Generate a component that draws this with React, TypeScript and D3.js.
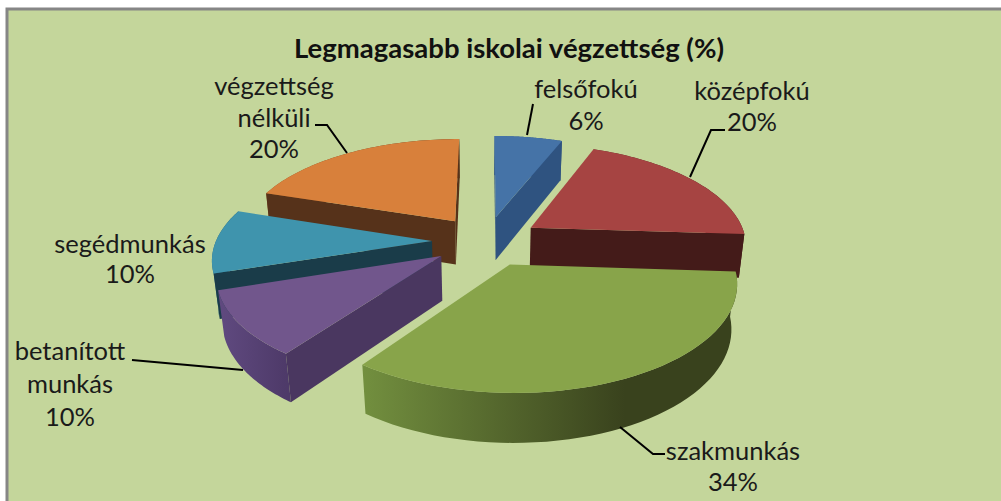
import React from 'react';
import * as d3 from 'd3';

const categories = ['felsőfokú', 'középfokú', 'szakmunkás', 'betanított munkás', 'segédmunkás', 'végzettség nélküli'];
const shares = [6, 20, 34, 10, 10, 20];
const title = 'Legmagasabb iskolai végzettség (%)';

const topColors = ['#4573a7', '#a64442', '#88a44a', '#71568c', '#3f94ad', '#d8803b'];
const faceColors = ['#2f5380', '#441b19', '#39431f', '#4a3760', '#1a3c49', '#56321a'];
const wallLeft = ['#3a6496', '#5e2624', '#73903f', '#604a80', '#2c6a7e', '#8a5226'];
const wallRight = ['#2f5380', '#441b19', '#39421d', '#4e3a69', '#1f4a5a', '#56321a'];

// label lines, one row per slice
const labelLines = [
  ['felsőfokú', '6%'],
  ['középfokú', '20%'],
  ['szakmunkás', '34%'],
  ['betanított', 'munkás', '10%'],
  ['segédmunkás', '10%'],
  ['végzettség', 'nélküli', '20%'],
];
const labelAnchors = [
  { x: 586, y: 98 },
  { x: 752, y: 100 },
  { x: 733, y: 460 },
  { x: 70, y: 360 },
  { x: 130, y: 253 },
  { x: 274, y: 95 },
];
const labelStep = [32, 31, 31, 33, 30, 31.5];
const leaders: [number, number][][] = [
  [[527, 135], [533, 104]],
  [[690, 177], [711, 130], [725, 130]],
  [[620, 427], [653, 454], [665, 454]],
  [[243, 370], [132, 360]],
  [],
  [[347, 153], [327, 125], [315, 125]],
];

// perspective of the 3D pie
const cx = 486, cy = 241;
const scaleU = 216, scaleV = 100.5, depth = 45;
const persp = 0.154, perspZ = 0.022;
const explode = 0.25;

const project = (u: number, v: number, z = 0): [number, number] => {
  const w = 1 + persp * v + perspZ * z;
  return [cx + (scaleU * u) / w, cy - (scaleV * v - depth * z) / w];
};

const pie = d3.pie<number>().sort(null).value((d) => d);
const slices = pie(shares);
const line = d3.line();

const drawOrder = [0, 5, 1, 4, 3, 2];

export default function App() {
  return (
    <svg width={1001} height={501} style={{ position: 'absolute', left: 0, top: 0, display: 'block', background: '#fff' }}>
      <defs>
        {slices.map((s, i) => {
          const mid = (s.startAngle + s.endAngle) / 2;
          const ox = explode * Math.sin(mid), oy = explode * Math.cos(mid);
          const xs = d3.range(0, 1.001, 0.05).map((t) => {
            const a = s.startAngle + t * (s.endAngle - s.startAngle);
            return project(ox + Math.sin(a), oy + Math.cos(a))[0];
          });
          const near = i === 2 ? [360, 625] : d3.extent(xs);
          return (
            <linearGradient key={i} id={`wall${i}`} gradientUnits="userSpaceOnUse" x1={near[0]} x2={near[1]} y1={0} y2={0}>
              <stop offset="0" stopColor={wallLeft[i]} />
              <stop offset="1" stopColor={wallRight[i]} />
            </linearGradient>
          );
        })}
      </defs>
      <rect x={7} y={9} width={1000} height={500} fill="#c4d69b" stroke="#868686" strokeWidth={3} />
      <text x={509} y={58} textAnchor="middle" fontFamily="Lato" fontWeight={700} fontSize={27.5} fill="#111">
        {title}
      </text>
      {drawOrder.map((i) => {
        const s = slices[i];
        const mid = (s.startAngle + s.endAngle) / 2;
        const ox = explode * Math.sin(mid), oy = explode * Math.cos(mid);
        const angles = d3.range(0, 1.0001, 1 / 48).map((t) => s.startAngle + t * (s.endAngle - s.startAngle));
        const rim = (a: number, z: number) => project(ox + Math.sin(a), oy + Math.cos(a), z);
        const apex = (z: number) => project(ox, oy, z);
        const top = [apex(0), ...angles.map((a) => rim(a, 0))];
        const wall = [...angles.map((a) => rim(a, 0)), ...angles.slice().reverse().map((a) => rim(a, 1))];
        const startFace = [apex(0), rim(s.startAngle, 0), rim(s.startAngle, 1), apex(1)];
        const endFace = [apex(0), rim(s.endAngle, 0), rim(s.endAngle, 1), apex(1)];
        // only the cut faces turned towards the viewer
        return (
          <g key={categories[i]}>
            <path d={line(wall) + 'Z'} fill={`url(#wall${i})`} />
            {d3.polygonArea(startFace) > 0 && <path d={line(startFace) + 'Z'} fill={faceColors[i]} />}
            {d3.polygonArea(endFace) < 0 && <path d={line(endFace) + 'Z'} fill={faceColors[i]} />}
            <path d={line(top) + 'Z'} fill={topColors[i]} />
          </g>
        );
      })}
      {leaders.map((pts, i) =>
        pts.length ? <path key={i} d={line(pts) ?? ''} fill="none" stroke="#000" strokeWidth={2} /> : null,
      )}
      {labelLines.map((rows, i) => (
        <text key={i} textAnchor="middle" fontFamily="Lato" fontSize={25.5} fill="#1a1a1a">
          {rows.map((r, j) => (
            <tspan key={j} x={labelAnchors[i].x} y={labelAnchors[i].y + j * labelStep[i]}>
              {r}
            </tspan>
          ))}
        </text>
      ))}
    </svg>
  );
}
